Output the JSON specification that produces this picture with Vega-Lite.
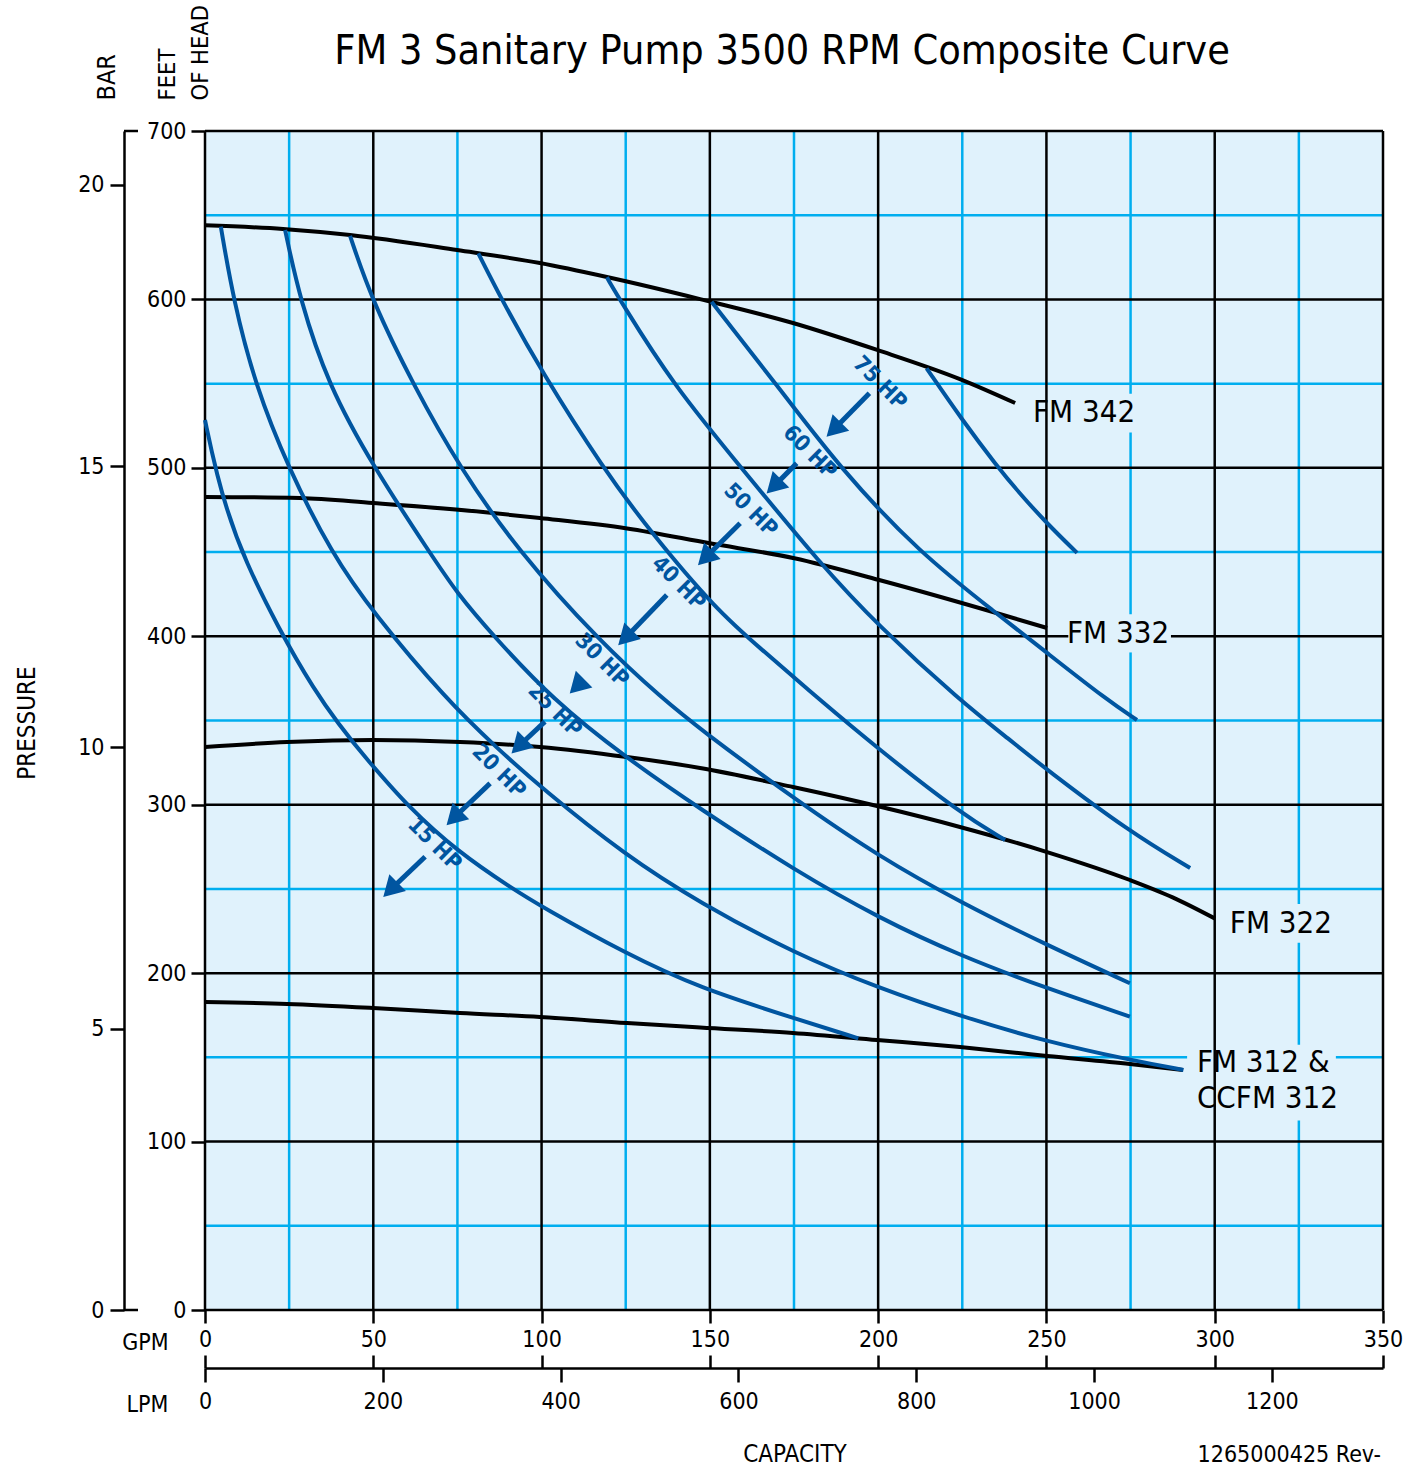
{
  "$schema": "https://vega.github.io/schema/vega-lite/v6.json",
  "width": 1178,
  "height": 1179,
  "autosize": {"type": "none"},
  "padding": {"left": 205, "top": 131, "right": 36, "bottom": 159},
  "background": "#ffffff",
  "config": {
    "view": {"fill": "#e0f2fc", "stroke": null},
    "font": "Liberation Sans Narrow, DejaVu Sans Condensed, Arial Narrow, sans-serif",
    "axis": {
      "labelFont": "Liberation Sans Narrow, DejaVu Sans Condensed, Arial Narrow, sans-serif",
      "titleFont": "Liberation Sans Narrow, DejaVu Sans Condensed, Arial Narrow, sans-serif",
      "labelColor": "#000000", "titleColor": "#000000", "tickColor": "#000000", "domainColor": "#000000",
      "titleFontWeight": "normal", "labelFontWeight": "normal", "grid": false,
      "labelFontSize": 23, "titleFontSize": 25, "tickWidth": 2.5, "domainWidth": 2.5,
      "labelFlush": false, "labelOverlap": false
    },
    "text": {"font": "Liberation Sans Narrow, DejaVu Sans Condensed, Arial Narrow, sans-serif"}
  },
  "title": {
    "text": "FM 3 Sanitary Pump 3500 RPM Composite Curve",
    "font": "Liberation Sans Narrow, DejaVu Sans Condensed, Arial Narrow, sans-serif",
    "fontSize": 41, "fontWeight": "normal", "color": "#000000",
    "anchor": "middle", "frame": "group", "baseline": "alphabetic",
    "offset": -40, "dx": -12, "dy": 61
  },
  "datasets": {
    "systems": [
      {"model": "FM 342", "gpm": 0, "ft": 644}, {"model": "FM 342", "gpm": 23.2, "ft": 641.8}, {"model": "FM 342", "gpm": 43.1, "ft": 638.2}, {"model": "FM 342", "gpm": 74.9, "ft": 629.3}, {"model": "FM 342", "gpm": 99.5, "ft": 621.6}, {"model": "FM 342", "gpm": 119.4, "ft": 613.3}, {"model": "FM 342", "gpm": 147.1, "ft": 600.2}, {"model": "FM 342", "gpm": 174.7, "ft": 586.0}, {"model": "FM 342", "gpm": 199.7, "ft": 570.0}, {"model": "FM 342", "gpm": 224.3, "ft": 552.7}, {"model": "FM 342", "gpm": 240.7, "ft": 538.5},
      {"model": "FM 332", "gpm": 0, "ft": 482.7}, {"model": "FM 332", "gpm": 28.2, "ft": 482.1}, {"model": "FM 332", "gpm": 49.9, "ft": 479.1}, {"model": "FM 332", "gpm": 82.6, "ft": 473.8}, {"model": "FM 332", "gpm": 99.5, "ft": 470.2}, {"model": "FM 332", "gpm": 125.4, "ft": 464.0}, {"model": "FM 332", "gpm": 150, "ft": 455.2}, {"model": "FM 332", "gpm": 175.1, "ft": 446.3}, {"model": "FM 332", "gpm": 200.3, "ft": 433.4}, {"model": "FM 332", "gpm": 234.1, "ft": 414.4}, {"model": "FM 332", "gpm": 250.2, "ft": 404.9},
      {"model": "FM 322", "gpm": 0, "ft": 334.3}, {"model": "FM 322", "gpm": 24.4, "ft": 337.2}, {"model": "FM 322", "gpm": 49.9, "ft": 338.4}, {"model": "FM 322", "gpm": 75.8, "ft": 337.2}, {"model": "FM 322", "gpm": 99.5, "ft": 334.3}, {"model": "FM 322", "gpm": 125.4, "ft": 328.3}, {"model": "FM 322", "gpm": 147.1, "ft": 321.8}, {"model": "FM 322", "gpm": 174.7, "ft": 310.5}, {"model": "FM 322", "gpm": 199.7, "ft": 299.2}, {"model": "FM 322", "gpm": 224.3, "ft": 286.8}, {"model": "FM 322", "gpm": 250.2, "ft": 271.9}, {"model": "FM 322", "gpm": 274.8, "ft": 255.3}, {"model": "FM 322", "gpm": 287.5, "ft": 245.0}, {"model": "FM 322", "gpm": 300, "ft": 232.5},
      {"model": "FM 312", "gpm": 0, "ft": 182.9}, {"model": "FM 312", "gpm": 24.4, "ft": 181.7}, {"model": "FM 312", "gpm": 49.9, "ft": 179.3}, {"model": "FM 312", "gpm": 75.8, "ft": 176.3}, {"model": "FM 312", "gpm": 99.5, "ft": 174.0}, {"model": "FM 312", "gpm": 125.4, "ft": 170.4}, {"model": "FM 312", "gpm": 147.1, "ft": 167.7}, {"model": "FM 312", "gpm": 174.7, "ft": 164.5}, {"model": "FM 312", "gpm": 199.7, "ft": 160.3}, {"model": "FM 312", "gpm": 224.3, "ft": 156.1}, {"model": "FM 312", "gpm": 250.2, "ft": 150.8}, {"model": "FM 312", "gpm": 274.8, "ft": 146.1}, {"model": "FM 312", "gpm": 290.6, "ft": 142.5}
    ],
    "hp": [
      {"hp": "15 HP", "gpm": 0, "ft": 528.4}, {"hp": "15 HP", "gpm": 3.0, "ft": 499.7}, {"hp": "15 HP", "gpm": 9.9, "ft": 449.3}, {"hp": "15 HP", "gpm": 33.2, "ft": 362.2}, {"hp": "15 HP", "gpm": 50, "ft": 322.6}, {"hp": "15 HP", "gpm": 59.9, "ft": 299.8}, {"hp": "15 HP", "gpm": 75, "ft": 272.1}, {"hp": "15 HP", "gpm": 91.6, "ft": 249.8}, {"hp": "15 HP", "gpm": 100, "ft": 239.5}, {"hp": "15 HP", "gpm": 124.8, "ft": 211.8}, {"hp": "15 HP", "gpm": 147.1, "ft": 191.0}, {"hp": "15 HP", "gpm": 175.1, "ft": 173.2}, {"hp": "15 HP", "gpm": 194.1, "ft": 161.3},
      {"hp": "20 HP", "gpm": 4.7, "ft": 643.2}, {"hp": "20 HP", "gpm": 8.4, "ft": 600}, {"hp": "20 HP", "gpm": 14.9, "ft": 549.2}, {"hp": "20 HP", "gpm": 24.8, "ft": 499.7}, {"hp": "20 HP", "gpm": 37.6, "ft": 449.3}, {"hp": "20 HP", "gpm": 50, "ft": 413.8}, {"hp": "20 HP", "gpm": 71.8, "ft": 362.2}, {"hp": "20 HP", "gpm": 86.7, "ft": 333.7}, {"hp": "20 HP", "gpm": 100, "ft": 309.9}, {"hp": "20 HP", "gpm": 124.8, "ft": 270.1}, {"hp": "20 HP", "gpm": 147.1, "ft": 241.6}, {"hp": "20 HP", "gpm": 175.1, "ft": 211.8}, {"hp": "20 HP", "gpm": 200.3, "ft": 191.0}, {"hp": "20 HP", "gpm": 225, "ft": 174.1}, {"hp": "20 HP", "gpm": 250.1, "ft": 159.3}, {"hp": "20 HP", "gpm": 275, "ft": 148.4}, {"hp": "20 HP", "gpm": 290.7, "ft": 142.5},
      {"hp": "25 HP", "gpm": 23.8, "ft": 641.2}, {"hp": "25 HP", "gpm": 28.2, "ft": 600}, {"hp": "25 HP", "gpm": 36.6, "ft": 549.2}, {"hp": "25 HP", "gpm": 50, "ft": 500.7}, {"hp": "25 HP", "gpm": 66.9, "ft": 449.3}, {"hp": "25 HP", "gpm": 74.9, "ft": 425.5}, {"hp": "25 HP", "gpm": 85.7, "ft": 400.2}, {"hp": "25 HP", "gpm": 103.4, "ft": 362.2}, {"hp": "25 HP", "gpm": 124.8, "ft": 328.3}, {"hp": "25 HP", "gpm": 147.1, "ft": 297.5}, {"hp": "25 HP", "gpm": 175.1, "ft": 261.2}, {"hp": "25 HP", "gpm": 200.3, "ft": 232.6}, {"hp": "25 HP", "gpm": 225, "ft": 209.8}, {"hp": "25 HP", "gpm": 250.1, "ft": 191.0}, {"hp": "25 HP", "gpm": 274.8, "ft": 174.2},
      {"hp": "30 HP", "gpm": 43.1, "ft": 637.7}, {"hp": "30 HP", "gpm": 49.5, "ft": 600}, {"hp": "30 HP", "gpm": 61.9, "ft": 549.2}, {"hp": "30 HP", "gpm": 75.8, "ft": 499.7}, {"hp": "30 HP", "gpm": 93.1, "ft": 450.6}, {"hp": "30 HP", "gpm": 117.4, "ft": 396.6}, {"hp": "30 HP", "gpm": 136.2, "ft": 362.5}, {"hp": "30 HP", "gpm": 147.1, "ft": 344.9}, {"hp": "30 HP", "gpm": 175.1, "ft": 303.4}, {"hp": "30 HP", "gpm": 200.3, "ft": 269.1}, {"hp": "30 HP", "gpm": 225, "ft": 241.5}, {"hp": "30 HP", "gpm": 250.1, "ft": 216.7}, {"hp": "30 HP", "gpm": 274.8, "ft": 194.0},
      {"hp": "40 HP", "gpm": 81.2, "ft": 627.4}, {"hp": "40 HP", "gpm": 88.2, "ft": 599.7}, {"hp": "40 HP", "gpm": 100, "ft": 557.1}, {"hp": "40 HP", "gpm": 118.3, "ft": 499.7}, {"hp": "40 HP", "gpm": 132.7, "ft": 461.1}, {"hp": "40 HP", "gpm": 152, "ft": 415.6}, {"hp": "40 HP", "gpm": 164.9, "ft": 393.0}, {"hp": "40 HP", "gpm": 182.7, "ft": 362.2}, {"hp": "40 HP", "gpm": 199.7, "ft": 333.7}, {"hp": "40 HP", "gpm": 224.3, "ft": 295.1}, {"hp": "40 HP", "gpm": 237.7, "ft": 279.0},
      {"hp": "50 HP", "gpm": 119.4, "ft": 613.1}, {"hp": "50 HP", "gpm": 123.3, "ft": 599.7}, {"hp": "50 HP", "gpm": 139.1, "ft": 549.2}, {"hp": "50 HP", "gpm": 160.4, "ft": 497.5}, {"hp": "50 HP", "gpm": 182.7, "ft": 443.3}, {"hp": "50 HP", "gpm": 200.3, "ft": 405.7}, {"hp": "50 HP", "gpm": 224.3, "ft": 361.9}, {"hp": "50 HP", "gpm": 239.2, "ft": 338.4}, {"hp": "50 HP", "gpm": 250.2, "ft": 320.6}, {"hp": "50 HP", "gpm": 274.8, "ft": 283.8}, {"hp": "50 HP", "gpm": 292.7, "ft": 262.4},
      {"hp": "60 HP", "gpm": 150.5, "ft": 598.6}, {"hp": "60 HP", "gpm": 169.9, "ft": 549.2}, {"hp": "60 HP", "gpm": 188.7, "ft": 499.7}, {"hp": "60 HP", "gpm": 212.4, "ft": 449.3}, {"hp": "60 HP", "gpm": 235.2, "ft": 413.6}, {"hp": "60 HP", "gpm": 250.2, "ft": 390.1}, {"hp": "60 HP", "gpm": 268, "ft": 362.2}, {"hp": "60 HP", "gpm": 276.9, "ft": 350.3},
      {"hp": "75 HP", "gpm": 214.4, "ft": 559.1}, {"hp": "75 HP", "gpm": 224.9, "ft": 528.6}, {"hp": "75 HP", "gpm": 235.2, "ft": 501.3}, {"hp": "75 HP", "gpm": 242.1, "ft": 484.7}, {"hp": "75 HP", "gpm": 250.2, "ft": 466.9}, {"hp": "75 HP", "gpm": 259.1, "ft": 449.5}
    ],
    "minorX": [{"gpm": 25}, {"gpm": 75}, {"gpm": 125}, {"gpm": 175}, {"gpm": 225}, {"gpm": 275}, {"gpm": 325}],
    "minorY": [{"ft": 50}, {"ft": 150}, {"ft": 250}, {"ft": 350}, {"ft": 450}, {"ft": 550}, {"ft": 650}],
    "majorX": [{"gpm": 0}, {"gpm": 50}, {"gpm": 100}, {"gpm": 150}, {"gpm": 200}, {"gpm": 250}, {"gpm": 300}, {"gpm": 350}],
    "majorY": [{"ft": 0}, {"ft": 100}, {"ft": 200}, {"ft": 300}, {"ft": 400}, {"ft": 500}, {"ft": 600}, {"ft": 700}],
    "knockouts": [
      {"label": "FM 342", "x1": 250.5, "x2": 276.6, "y1": 521, "y2": 544},
      {"label": "FM 332", "x1": 256.5, "x2": 287, "y1": 390.5, "y2": 413},
      {"label": "FM 322", "x1": 303, "x2": 336, "y1": 218, "y2": 241},
      {"label": "FM 312", "x1": 291.8, "x2": 336, "y1": 112.5, "y2": 157.5}
    ],
    "modelLabels": [
      {"label": "FM 342", "gpm": 246.0, "ft": 532.3},
      {"label": "FM 332", "gpm": 256.1, "ft": 401.1},
      {"label": "FM 322", "gpm": 304.5, "ft": 229.2},
      {"label": "FM 312 &", "gpm": 294.7, "ft": 146.9},
      {"label": "CCFM 312", "gpm": 294.7, "ft": 125.0}
    ],
    "hpLabels": [
      {"hp": "75 HP", "gpm": 200.6, "ft": 550.4},
      {"hp": "60 HP", "gpm": 179.8, "ft": 509.4},
      {"hp": "50 HP", "gpm": 162.2, "ft": 475.0},
      {"hp": "40 HP", "gpm": 140.8, "ft": 431.6},
      {"hp": "30 HP", "gpm": 118.0, "ft": 385.9},
      {"hp": "25 HP", "gpm": 104.0, "ft": 356.2},
      {"hp": "20 HP", "gpm": 87.4, "ft": 320.0},
      {"hp": "15 HP", "gpm": 68.3, "ft": 276.7}
    ],
    "arrows": [
      {"hp": "75 HP", "gpm": 197.4, "ft": 544.3, "gpm2": 186.8, "ft2": 522.7},
      {"hp": "60 HP", "gpm": 175.8, "ft": 502.7, "gpm2": 169.0, "ft2": 489.0},
      {"hp": "50 HP", "gpm": 159.0, "ft": 467.1, "gpm2": 148.6, "ft2": 446.5},
      {"hp": "40 HP", "gpm": 137.2, "ft": 424.5, "gpm2": 124.9, "ft2": 399.0},
      {"hp": "30 HP", "gpm": 110.5, "ft": 370.3, "gpm2": 110.5, "ft2": 370.3},
      {"hp": "25 HP", "gpm": 101.0, "ft": 349.3, "gpm2": 93.2, "ft2": 334.7},
      {"hp": "20 HP", "gpm": 84.7, "ft": 312.7, "gpm2": 73.9, "ft2": 292.1},
      {"hp": "15 HP", "gpm": 65.4, "ft": 269.1, "gpm2": 55.1, "ft2": 249.5}
    ],
    "barCaps": [
      {"gpm": -24.07, "gpm2": -19.9, "ft": 0},
      {"gpm": -24.07, "gpm2": -19.9, "ft": 700}
    ]
  },
  "layer": [
    {
      "data": {"name": "minorX"},
      "mark": {"type": "rule", "color": "#00aeef", "strokeWidth": 2.5},
      "encoding": {
        "x": {"field": "gpm", "type": "quantitative", "scale": {"domain": [0, 350], "nice": false, "zero": false},
          "axis": {"orient": "bottom", "values": [0, 50, 100, 150, 200, 250, 300, 350], "format": "d", "domain": false, "ticks": true, "tickSize": 13, "labelPadding": 5,
            "title": "GPM", "titleFontSize": 23, "titleX": -60, "titleY": 32, "titleAlign": "center", "titleBaseline": "middle", "titleAngle": 0}}
      }
    },
    {
      "data": {"name": "minorY"},
      "mark": {"type": "rule", "color": "#00aeef", "strokeWidth": 2.5},
      "encoding": {
        "y": {"field": "ft", "type": "quantitative", "scale": {"domain": [0, 700], "nice": false, "zero": false},
          "axis": {"orient": "left", "values": [0, 100, 200, 300, 400, 500, 600, 700], "format": "d", "domain": false, "ticks": true, "tickSize": 14, "labelPadding": 5,
            "title": ["FEET", "OF HEAD"], "titleAngle": 270, "titleX": -31, "titleY": -31, "titleAlign": "left", "titleBaseline": "alphabetic", "titleLineHeight": 33, "titleFontSize": 23.5}}
      }
    },
    {
      "data": {"name": "knockouts"},
      "mark": {"type": "rect", "color": "#e0f2fc"},
      "encoding": {
        "x": {"field": "x1", "type": "quantitative", "scale": {"domain": [0, 350], "nice": false, "zero": false}, "axis": null},
        "x2": {"field": "x2"},
        "y": {"field": "y1", "type": "quantitative", "scale": {"domain": [0, 700], "nice": false, "zero": false}, "axis": null},
        "y2": {"field": "y2"}
      }
    },
    {
      "data": {"name": "majorX"},
      "mark": {"type": "rule", "color": "#000000", "strokeWidth": 2.5},
      "encoding": {
        "x": {"field": "gpm", "type": "quantitative", "scale": {"domain": [0, 350], "nice": false, "zero": false}, "axis": null}
      }
    },
    {
      "data": {"name": "majorY"},
      "mark": {"type": "rule", "color": "#000000", "strokeWidth": 2.5},
      "encoding": {
        "y": {"field": "ft", "type": "quantitative", "scale": {"domain": [0, 700], "nice": false, "zero": false}, "axis": null}
      }
    },
    {
      "data": {"name": "knockouts"},
      "transform": [{"filter": "datum.label === 'FM 332'"}],
      "mark": {"type": "rect", "color": "#e0f2fc"},
      "encoding": {
        "x": {"field": "x1", "type": "quantitative", "scale": {"domain": [0, 350], "nice": false, "zero": false}, "axis": null},
        "x2": {"field": "x2"},
        "y": {"field": "y1", "type": "quantitative", "scale": {"domain": [0, 700], "nice": false, "zero": false}, "axis": null},
        "y2": {"field": "y2"}
      }
    },
    {
      "data": {"name": "systems"},
      "mark": {"type": "line", "color": "#000000", "strokeWidth": 4, "interpolate": "monotone"},
      "encoding": {
        "x": {"field": "gpm", "type": "quantitative", "scale": {"domain": [0, 350], "nice": false, "zero": false}, "axis": null},
        "y": {"field": "ft", "type": "quantitative", "scale": {"domain": [0, 700], "nice": false, "zero": false}, "axis": null},
        "detail": {"field": "model", "type": "nominal"}
      }
    },
    {
      "data": {"name": "hp"},
      "mark": {"type": "line", "color": "#0055a0", "strokeWidth": 4, "interpolate": "basis"},
      "encoding": {
        "x": {"field": "gpm", "type": "quantitative", "scale": {"domain": [0, 350], "nice": false, "zero": false}, "axis": null},
        "y": {"field": "ft", "type": "quantitative", "scale": {"domain": [0, 700], "nice": false, "zero": false}, "axis": null},
        "detail": {"field": "hp", "type": "nominal"}
      }
    },
    {
      "data": {"name": "arrows"},
      "mark": {"type": "rule", "color": "#0055a0", "strokeWidth": 5},
      "encoding": {
        "x": {"field": "gpm", "type": "quantitative", "scale": {"domain": [0, 350], "nice": false, "zero": false}, "axis": null},
        "y": {"field": "ft", "type": "quantitative", "scale": {"domain": [0, 700], "nice": false, "zero": false}, "axis": null},
        "x2": {"field": "gpm2"},
        "y2": {"field": "ft2"}
      }
    },
    {
      "data": {"name": "arrows"},
      "mark": {"type": "point", "shape": "triangle-down", "angle": 45, "size": 550, "filled": true, "opacity": 1, "color": "#0055a0", "strokeWidth": 0},
      "encoding": {
        "x": {"field": "gpm2", "type": "quantitative", "scale": {"domain": [0, 350], "nice": false, "zero": false}, "axis": null},
        "y": {"field": "ft2", "type": "quantitative", "scale": {"domain": [0, 700], "nice": false, "zero": false}, "axis": null}
      }
    },
    {
      "data": {"name": "hpLabels"},
      "mark": {"type": "text", "color": "#0055a0", "fontSize": 22, "fontWeight": "bold", "angle": 45, "align": "center", "baseline": "middle"},
      "encoding": {
        "x": {"field": "gpm", "type": "quantitative", "scale": {"domain": [0, 350], "nice": false, "zero": false}, "axis": null},
        "y": {"field": "ft", "type": "quantitative", "scale": {"domain": [0, 700], "nice": false, "zero": false}, "axis": null},
        "text": {"field": "hp", "type": "nominal"}
      }
    },
    {
      "data": {"name": "modelLabels"},
      "mark": {"type": "text", "color": "#000000", "fontSize": 31, "align": "left", "baseline": "middle"},
      "encoding": {
        "x": {"field": "gpm", "type": "quantitative", "scale": {"domain": [0, 350], "nice": false, "zero": false}, "axis": null},
        "y": {"field": "ft", "type": "quantitative", "scale": {"domain": [0, 700], "nice": false, "zero": false}, "axis": null},
        "text": {"field": "label", "type": "nominal"}
      }
    },
    {
      "data": {"values": [{"label": "PRESSURE", "gpm": -50.5, "ft": 348.5}]},
      "mark": {"type": "text", "color": "#000000", "fontSize": 24, "angle": 270, "align": "center", "baseline": "alphabetic"},
      "encoding": {
        "x": {"field": "gpm", "type": "quantitative", "scale": {"domain": [0, 350], "nice": false, "zero": false}, "axis": null},
        "y": {"field": "ft", "type": "quantitative", "scale": {"domain": [0, 700], "nice": false, "zero": false}, "axis": null},
        "text": {"field": "label", "type": "nominal"}
      }
    },
    {
      "data": {"values": [{"label": "CAPACITY", "gpm": 175.3, "ft": -90}]},
      "mark": {"type": "text", "color": "#000000", "fontSize": 24, "align": "center", "baseline": "alphabetic"},
      "encoding": {
        "x": {"field": "gpm", "type": "quantitative", "scale": {"domain": [0, 350], "nice": false, "zero": false}, "axis": null},
        "y": {"field": "ft", "type": "quantitative", "scale": {"domain": [0, 700], "nice": false, "zero": false}, "axis": null},
        "text": {"field": "label", "type": "nominal"}
      }
    },
    {
      "data": {"values": [{"label": "1265000425 Rev-", "gpm": 349.4, "ft": -90}]},
      "mark": {"type": "text", "color": "#000000", "fontSize": 23, "align": "right", "baseline": "alphabetic"},
      "encoding": {
        "x": {"field": "gpm", "type": "quantitative", "scale": {"domain": [0, 350], "nice": false, "zero": false}, "axis": null},
        "y": {"field": "ft", "type": "quantitative", "scale": {"domain": [0, 700], "nice": false, "zero": false}, "axis": null},
        "text": {"field": "label", "type": "nominal"}
      }
    },
    {
      "data": {"name": "barCaps"},
      "mark": {"type": "rule", "color": "#000000", "strokeWidth": 2.5},
      "encoding": {
        "x": {"field": "gpm", "type": "quantitative", "scale": {"domain": [0, 350], "nice": false, "zero": false}, "axis": null},
        "x2": {"field": "gpm2"},
        "y": {"field": "ft", "type": "quantitative", "scale": {"domain": [0, 700], "nice": false, "zero": false}, "axis": null}
      }
    },
    {
      "data": {"values": [{"bar": 0}, {"bar": 20.958}]},
      "mark": {"type": "point", "opacity": 0},
      "encoding": {
        "y": {"field": "bar", "type": "quantitative", "scale": {"domain": [0, 20.958], "nice": false, "zero": false},
          "axis": {"orient": "left", "offset": 81, "values": [0, 5, 10, 15, 20], "format": "d", "domain": true, "ticks": true, "tickSize": 14, "labelPadding": 6,
            "title": "BAR", "titleAngle": 270, "titleAlign": "left", "titleBaseline": "alphabetic", "titleX": -10, "titleY": -31, "titleFontSize": 25}}
      }
    },
    {
      "data": {"values": [{"lpm": 0}, {"lpm": 1324.9}]},
      "mark": {"type": "point", "opacity": 0},
      "encoding": {
        "x": {"field": "lpm", "type": "quantitative", "scale": {"domain": [0, 1324.9], "nice": false, "zero": false},
          "axis": {"orient": "bottom", "offset": 58, "values": [0, 200, 400, 600, 800, 1000, 1200], "format": "d", "domain": true, "ticks": true, "tickSize": 14, "labelPadding": 8,
            "title": "LPM", "titleFontSize": 23, "titleX": -58, "titleY": 36, "titleAlign": "center", "titleBaseline": "middle", "titleAngle": 0}}
      }
    },
    {
      "data": {"values": [{"g": 0}, {"g": 350}]},
      "mark": {"type": "point", "opacity": 0},
      "encoding": {
        "x": {"field": "g", "type": "quantitative", "scale": {"domain": [0, 350], "nice": false, "zero": false},
          "axis": {"orient": "bottom", "offset": 45, "values": [0, 50, 100, 150, 200, 250, 300, 350], "domain": false, "labels": false, "ticks": true, "tickSize": 13, "title": null}}
      }
    }
  ],
  "resolve": {"scale": {"x": "independent", "y": "independent"}}
}
